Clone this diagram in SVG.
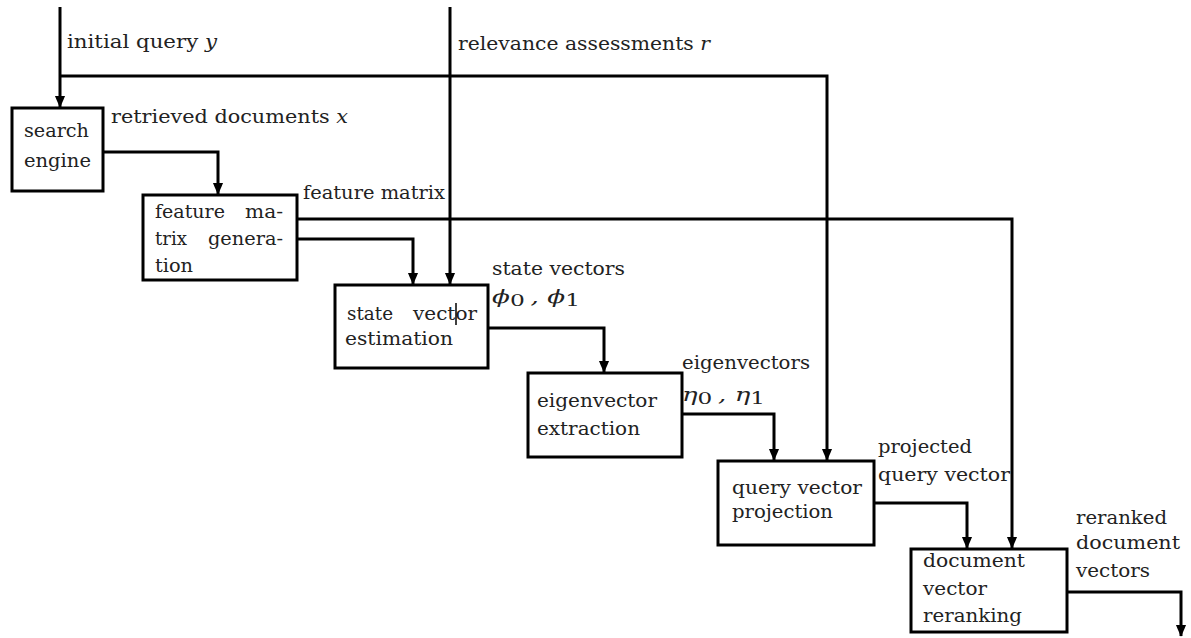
<svg xmlns="http://www.w3.org/2000/svg" width="1191" height="638" viewBox="0 0 1191 638">
<style>
.t{font-size:18px;fill:#222}
.box{fill:#fff;stroke:#000;stroke-width:3}
.c{fill:none;stroke:#000;stroke-width:3}
.m{font-style:italic}
.s{font-size:16px;font-style:normal}
</style>
<defs>
<marker id="ad" markerUnits="userSpaceOnUse" markerWidth="12" markerHeight="14" refX="13" refY="6" orient="auto" viewBox="0 0 14 12">
<path d="M0,0 L14,6 L0,12 Z" fill="#000"/>
</marker>
</defs>
<rect width="1191" height="638" fill="#fff"/>
<g id="connectors">
<path class="c" d="M60,7 V107" marker-end="url(#ad)"/>
<path class="c" d="M60,76 H827 V460" marker-end="url(#ad)"/>
<path class="c" d="M450,7 V284" marker-end="url(#ad)"/>
<path class="c" d="M103,152 H218 V194" marker-end="url(#ad)"/>
<path class="c" d="M297,219 H1012 V548" marker-end="url(#ad)"/>
<path class="c" d="M297,239 H413 V284" marker-end="url(#ad)"/>
<path class="c" d="M488,328 H604 V372" marker-end="url(#ad)"/>
<path class="c" d="M682,414 H774 V460" marker-end="url(#ad)"/>
<path class="c" d="M874,503 H967 V548" marker-end="url(#ad)"/>
<path class="c" d="M1067,592 H1181 V636" marker-end="url(#ad)"/>
</g>
<g font-family="'DejaVu Serif', 'Liberation Serif', serif" class="t">
<g id="labels">
<text x="67" y="48" textLength="150" lengthAdjust="spacingAndGlyphs">initial query <tspan class="m">y</tspan></text>
<text x="458" y="50" textLength="252" lengthAdjust="spacingAndGlyphs">relevance assessments <tspan class="m">r</tspan></text>
<text x="111" y="123" textLength="237" lengthAdjust="spacingAndGlyphs">retrieved documents <tspan class="m">x</tspan></text>
<text x="303" y="199" textLength="142" lengthAdjust="spacingAndGlyphs">feature matrix</text>
<text x="492" y="275" textLength="133" lengthAdjust="spacingAndGlyphs">state vectors</text>
<text x="492" y="303" class="m" textLength="88" lengthAdjust="spacingAndGlyphs">ϕ<tspan class="s" dy="3">0</tspan><tspan dy="-3" dx="4">, ϕ</tspan><tspan class="s" dy="3">1</tspan></text>
<text x="682" y="369" textLength="128" lengthAdjust="spacingAndGlyphs">eigenvectors</text>
<text x="682" y="401" class="m" textLength="83" lengthAdjust="spacingAndGlyphs">η<tspan class="s" dy="3">0</tspan><tspan dy="-3" dx="4">, η</tspan><tspan class="s" dy="3">1</tspan></text>
<text x="878" y="453" textLength="94" lengthAdjust="spacingAndGlyphs">projected</text>
<text x="878" y="481" textLength="132" lengthAdjust="spacingAndGlyphs">query vector</text>
<text x="1076" y="524" textLength="91" lengthAdjust="spacingAndGlyphs">reranked</text>
<text x="1076" y="549" textLength="104" lengthAdjust="spacingAndGlyphs">document</text>
<text x="1076" y="577" textLength="74" lengthAdjust="spacingAndGlyphs">vectors</text>
</g>
<g id="search-engine">
<rect class="box" x="12" y="108" width="91" height="83"/>
<text x="24" y="137" textLength="65" lengthAdjust="spacingAndGlyphs">search</text>
<text x="24" y="167" textLength="67" lengthAdjust="spacingAndGlyphs">engine</text>
</g>
<g id="feature-matrix-generation">
<rect class="box" x="143" y="195" width="154" height="85"/>
<text x="155" y="218" textLength="70" lengthAdjust="spacingAndGlyphs">feature</text>
<text x="245" y="218" textLength="38" lengthAdjust="spacingAndGlyphs">ma-</text>
<text x="155" y="245" textLength="32" lengthAdjust="spacingAndGlyphs">trix</text>
<text x="208" y="245" textLength="75" lengthAdjust="spacingAndGlyphs">genera-</text>
<text x="155" y="272" textLength="38" lengthAdjust="spacingAndGlyphs">tion</text>
</g>
<g id="state-vector-estimation">
<rect class="box" x="335" y="285" width="153" height="83"/>
<text x="347" y="320" textLength="46" lengthAdjust="spacingAndGlyphs">state</text>
<text x="413" y="320" textLength="64" lengthAdjust="spacingAndGlyphs">vector</text>
<text x="345" y="345" textLength="108" lengthAdjust="spacingAndGlyphs">estimation</text>
<line x1="456" y1="303" x2="456" y2="325" stroke="#000" stroke-width="1.5"/>
</g>
<g id="eigenvector-extraction">
<rect class="box" x="528" y="373" width="154" height="84"/>
<text x="537" y="407" textLength="120" lengthAdjust="spacingAndGlyphs">eigenvector</text>
<text x="537" y="435" textLength="103" lengthAdjust="spacingAndGlyphs">extraction</text>
</g>
<g id="query-vector-projection">
<rect class="box" x="718" y="461" width="156" height="84"/>
<text x="732" y="494" textLength="130" lengthAdjust="spacingAndGlyphs">query vector</text>
<text x="732" y="518" textLength="101" lengthAdjust="spacingAndGlyphs">projection</text>
</g>
<g id="document-vector-reranking">
<rect class="box" x="911" y="549" width="156" height="83"/>
<text x="923" y="567" textLength="102" lengthAdjust="spacingAndGlyphs">document</text>
<text x="923" y="595" textLength="64" lengthAdjust="spacingAndGlyphs">vector</text>
<text x="923" y="622" textLength="99" lengthAdjust="spacingAndGlyphs">reranking</text>
</g>
</g>
</svg>
